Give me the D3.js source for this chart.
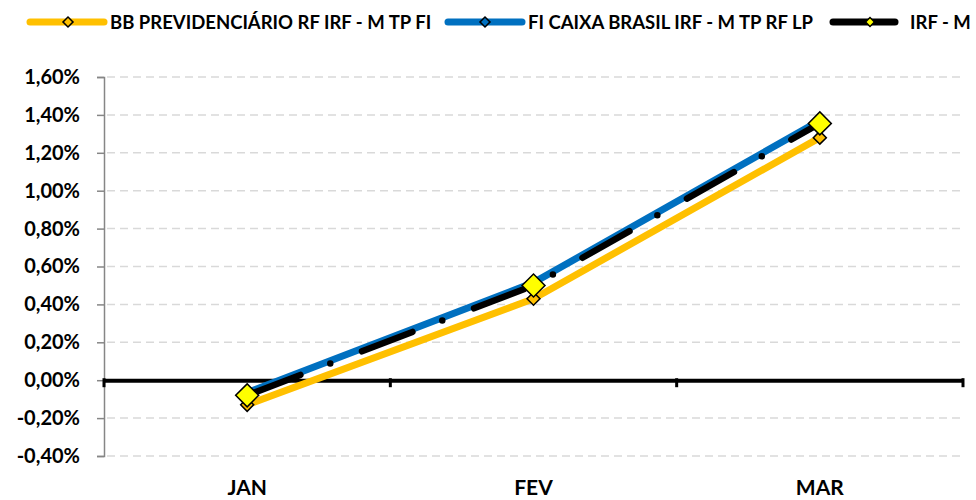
<!DOCTYPE html>
<html><head><meta charset="utf-8">
<script src="https://cdn.jsdelivr.net/npm/d3@7"></script>
<style>body{margin:0;background:#fff}svg{display:block}text{font-family:Lato,"Open Sans",sans-serif;font-weight:700;fill:#000}</style>
</head><body><svg id="c" width="976" height="500"></svg>
<script>
const categories = ["JAN", "FEV", "MAR"];
const seriesNames = ["BB PREVIDENCIÁRIO RF IRF - M TP FI", "FI CAIXA BRASIL IRF - M TP RF LP", "IRF - M"];
const bbValues = [-0.13, 0.43, 1.28];
const caixaValues = [-0.065, 0.515, 1.37];
const irfmValues = [-0.08, 0.50, 1.355];
const yTicks = [-0.4, -0.2, 0, 0.2, 0.4, 0.6, 0.8, 1.0, 1.2, 1.4, 1.6];

const svg = d3.select("#c");
const L = 104, R = 963, T = 77, B = 456;
const x = d3.scaleBand().domain(categories).range([L, R]).padding(0);
const y = d3.scaleLinear().domain([-0.4, 1.6]).range([B, T]);
const fmt = v => (v < 0 ? "-" : "") + Math.abs(v).toFixed(2).replace(".", ",") + "%";

// gridlines
svg.append("g").selectAll("line").data(yTicks.filter(v => v !== 0)).join("line")
  .attr("x1", L + 3).attr("x2", R).attr("y1", d => y(d)).attr("y2", d => y(d))
  .attr("stroke", "#d9d9d9").attr("stroke-width", 1.5).attr("stroke-dasharray", "8,5");

// y axis
const ya = svg.append("g").attr("transform", `translate(${L},0)`)
  .call(d3.axisLeft(y).tickValues(yTicks).tickFormat(fmt).tickSize(7).tickPadding(17));
ya.select(".domain").attr("stroke", "#868686").attr("stroke-width", 1.5);
ya.selectAll(".tick line").attr("stroke", "#868686").attr("stroke-width", 1.5);
ya.selectAll(".tick text").attr("font-size", 20).attr("font-family", "Lato").attr("font-weight", 700).attr("fill", "#000");

// x axis at zero
const xa = svg.append("g").attr("transform", `translate(0,${y(0)})`)
  .call(d3.axisBottom(x).tickSize(0).tickFormat(""));
xa.select(".domain").attr("stroke", "#000").attr("stroke-width", 4);
svg.append("g").selectAll("line").data([...categories.map(c => x(c)), R]).join("line")
  .attr("x1", d => d).attr("x2", d => d).attr("y1", y(0) - 2).attr("y2", y(0) + 7)
  .attr("stroke", "#000").attr("stroke-width", 3);

// category labels at bottom
svg.append("g").selectAll("text").data(categories).join("text")
  .attr("x", d => x(d) + x.bandwidth() / 2).attr("y", 495)
  .attr("text-anchor", "middle").attr("font-size", 21).text(d => d);

const line = d3.line().x((d, i) => x(categories[i]) + x.bandwidth() / 2).y(d => y(d));
const cx = i => x(categories[i]) + x.bandwidth() / 2;
const diamond = s => d3.symbol(d3.symbolSquare, s * s / 2)();

// BB line
svg.append("path").datum(bbValues).attr("d", line).attr("fill", "none")
  .attr("stroke", "#FFC000").attr("stroke-width", 7).attr("stroke-linejoin", "round");
// CAIXA line
svg.append("path").datum(caixaValues).attr("d", line).attr("fill", "none")
  .attr("stroke", "#0070C0").attr("stroke-width", 7).attr("stroke-linejoin", "round");
// IRF-M line
svg.append("path").datum(irfmValues).attr("d", line).attr("fill", "none")
  .attr("stroke", "#000").attr("stroke-width", 6.5).attr("stroke-linecap", "round")
  .attr("stroke-dasharray", "54,32,0,34").attr("stroke-dashoffset", -3);

// markers
function markers(vals, size, fill) {
  svg.append("g").selectAll("path").data(vals).join("path")
    .attr("d", diamond(size))
    .attr("transform", (d, i) => `translate(${cx(i)},${y(d)}) rotate(45)`)
    .attr("fill", fill).attr("stroke", "#000").attr("stroke-width", 1.5);
}
markers(bbValues, 13, "#FFC000");
markers(caixaValues, 11, "#0070C0");
markers(irfmValues, 23, "#FFFF00");

// legend
const legendItems = [
  {name: seriesNames[0], x1: 30, x2: 104, mx: 68, ms: 10, color: "#FFC000", mfill: "#FFC000", tx: 110},
  {name: seriesNames[1], x1: 448, x2: 522, mx: 485, ms: 10, color: "#0070C0", mfill: "#0070C0", tx: 528},
  {name: seriesNames[2], x1: 833, x2: 895, mx: 870, ms: 9, color: "#000", mfill: "#FFFF00", tx: 910}
];
const lg = svg.append("g");
legendItems.forEach(it => {
  lg.append("line").attr("x1", it.x1).attr("x2", it.x2).attr("y1", 22).attr("y2", 22)
    .attr("stroke", it.color).attr("stroke-width", 7).attr("stroke-linecap", "round");
  lg.append("path").attr("d", diamond(it.ms)).attr("transform", `translate(${it.mx},22) rotate(45)`)
    .attr("fill", it.mfill).attr("stroke", "#000").attr("stroke-width", 1.5);
  lg.append("text").attr("x", it.tx).attr("y", 29).attr("font-size", 18.5).text(it.name);
});
</script></body></html>
